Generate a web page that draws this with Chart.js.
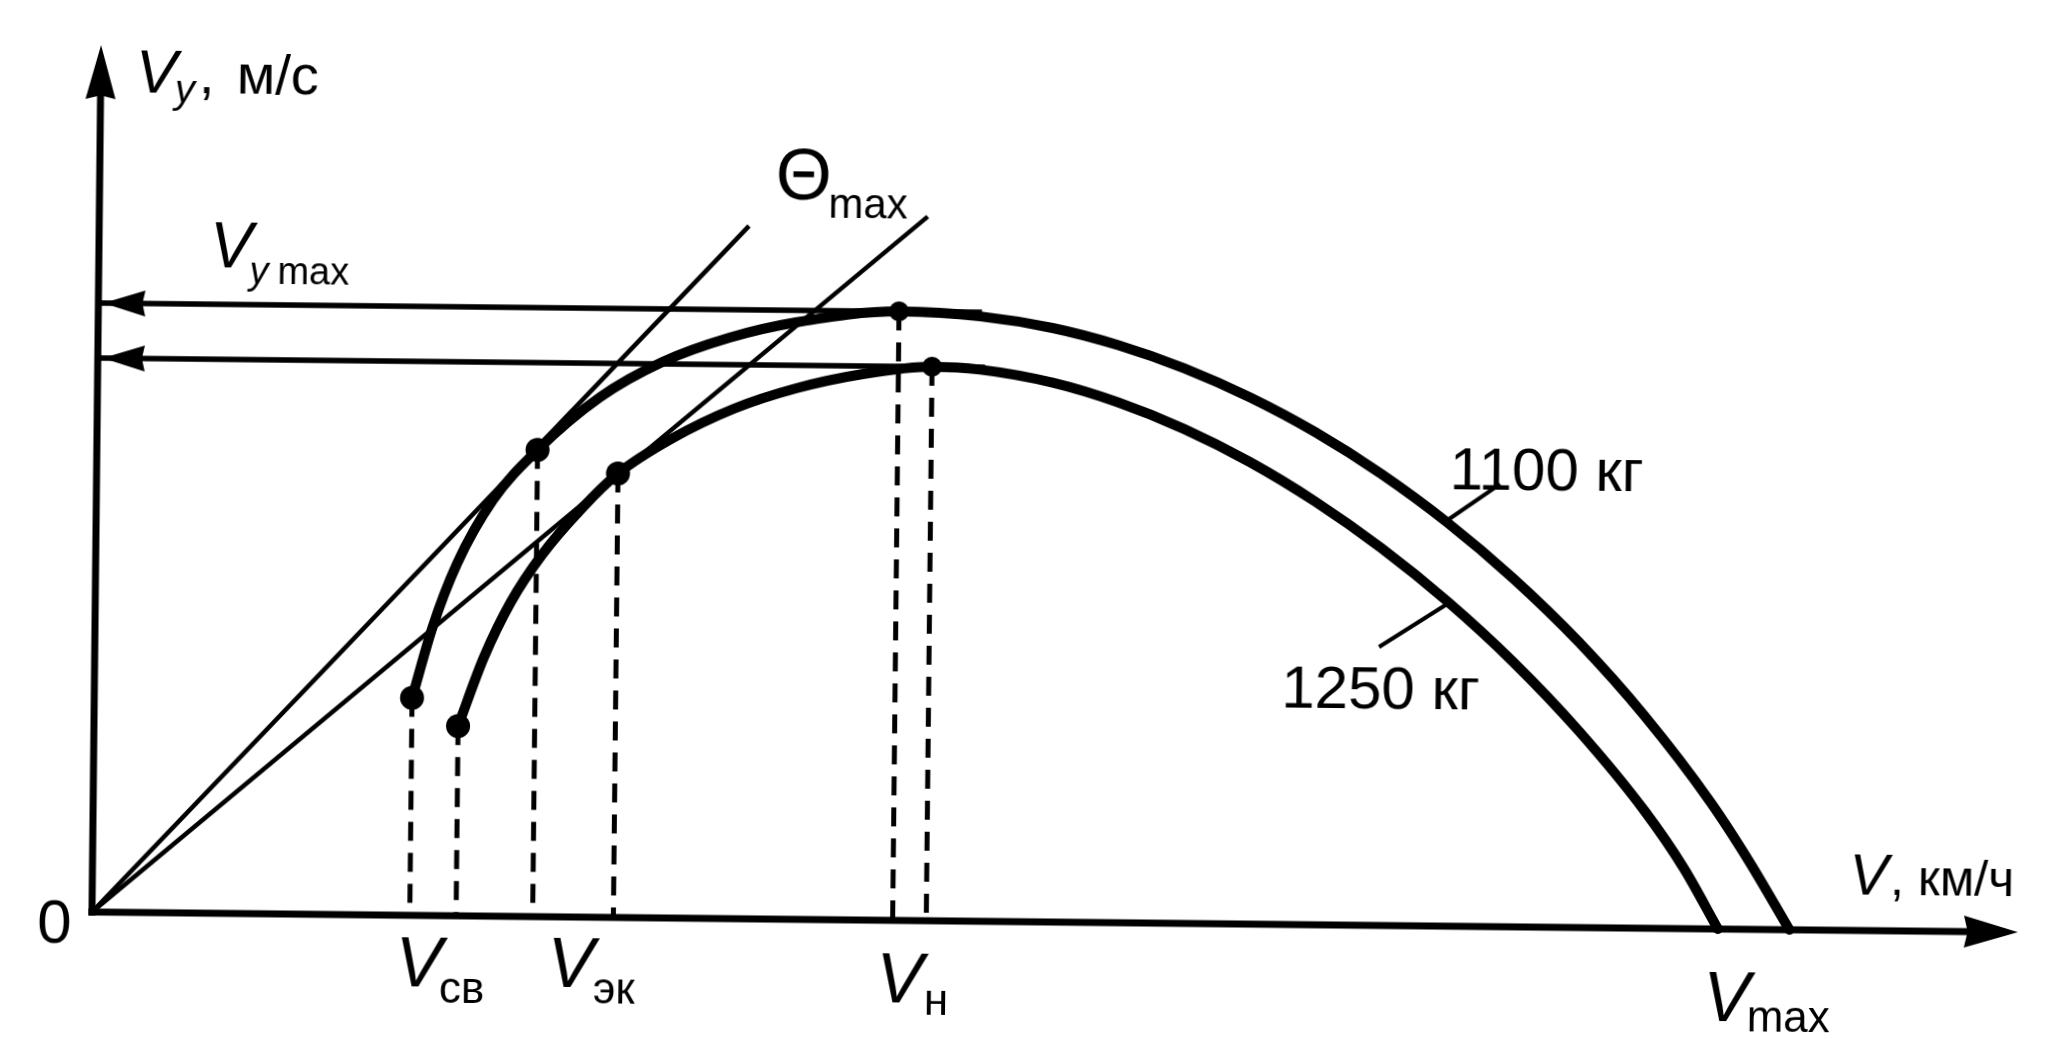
<!DOCTYPE html>
<html><head><meta charset="utf-8">
<script src="https://cdn.jsdelivr.net/npm/chart.js@4.4.1/dist/chart.umd.min.js"></script>
<style>
html,body{margin:0;padding:0;background:#fff;overflow:hidden;}
#wrap{width:2063px;height:1039px;position:relative;background:#fff;}
#c{position:absolute;left:0;top:0;transform:rotate(0.6deg);transform-origin:92px 912px;}
</style></head><body>
<div id="wrap"><canvas id="c" width="2063" height="1039"></canvas></div>
<script>
// ---------- data (V, km/h-like units ; Vy, m/s-like units) ----------
const axisVmax = 192.6;      // end of V axis (arrow tip)
const axisVyMax = 86.7;      // end of Vy axis (arrow tip)

const curve1100V  = [31.78, 33.76, 36.13, 39.67, 44.07, 50.25, 56.47, 63.15, 69.78, 80.07, 88.20, 95.45, 102.04, 108.64, 115.25, 121.87, 128.49, 135.12, 141.76, 148.40, 155.06, 161.72, 165.73, 169.75];
const curve1100Vy = [21.74, 28.86, 35.20, 41.62, 46.67, 52.00, 55.60, 58.10, 59.70, 60.90, 60.49, 59.40, 57.75, 55.51, 52.67, 49.23, 45.13, 40.36, 34.85, 28.54, 21.21, 12.69, 6.67, 0];

const curve1250V  = [36.41, 38.93, 41.54, 44.63, 48.58, 52.14, 57.41, 63.67, 69.85, 76.54, 83.43, 88.25, 95.51, 102.10, 108.71, 115.32, 121.94, 128.57, 135.21, 141.85, 148.49, 155.16, 159.15, 162.60];
const curve1250Vy = [18.98, 25.90, 31.40, 36.20, 40.90, 44.40, 47.90, 51.00, 53.10, 54.60, 55.40, 55.16, 53.93, 52.02, 49.44, 46.20, 42.29, 37.72, 32.47, 26.49, 19.65, 11.71, 6.00, 0];

const tangentSteepV    = [0, 64.98];
const tangentSteepVy   = [0, 69.29];
const tangentShallowV  = [0, 82.84];
const tangentShallowVy = [0, 70.41];

// key points: Vсв(1100), Vсв(1250), Vэк(1100), Vэк(1250), Vн(1100), Vн(1250)
const keyV  = [31.78, 36.41, 44.07, 52.14, 80.07, 83.43];
const keyVy = [21.74, 18.98, 46.67, 44.40, 60.90, 55.40];

const vyMaxLevels   = [60.90, 55.40];
const vyMaxArrowEnd = [88.37, 88.73];

const leader1100V  = [134.70, 140.35];
const leader1100Vy = [40.30, 44.27];
const leader1250V  = [135.47, 128.42];
const leader1250Vy = [32.40, 27.85];

// ---------- styling / annotations ----------
const F = '"Liberation Sans", Arial, Helvetica, sans-serif';
const pts = (xs, ys) => xs.map((x, i) => ({x, y: ys[i]}));
const dotRadius = [12, 12, 12, 12, 10, 10];

const annotations = [
  {v: -5.47, vy: -3.06, parts: [{text: '0', font: `62px ${F}`}]},
  {v: 3.5, vy: 82.0, parts: [
    {text: 'V', font: `italic 62px ${F}`},
    {text: 'y', font: `italic 40px ${F}`, dy: 10, gap: -2},
    {text: ',', font: `56px ${F}`, gap: 4},
    {text: 'м/с', font: `56px ${F}`, gap: 22}]},
  {v: 11.1, vy: 64.6, parts: [
    {text: 'V', font: `italic 64px ${F}`},
    {text: 'y', font: `italic 38px ${F}`, dy: 16, gap: -3},
    {text: 'max', font: `38px ${F}`, dy: 16, gap: 9}]},
  {v: 67.6, vy: 72.0, parts: [
    {text: 'Θ', font: `72px ${F}`},
    {text: 'max', font: `42px ${F}`, dy: 18, gap: -3}]},
  {v: 135.3, vy: 43.72, parts: [{text: '1100 кг', font: `60px ${F}`}]},
  {v: 118.7, vy: 21.75, parts: [{text: '1250 кг', font: `60px ${F}`}]},
  {v: 175.7, vy: 3.6, parts: [
    {text: 'V', font: `italic 58px ${F}`},
    {text: ',', font: `50px ${F}`, gap: 2},
    {text: 'км/ч', font: `50px ${F}`, gap: 14}]},
  {v: 30.4, vy: -7.1, parts: [
    {text: 'V', font: `italic 70px ${F}`},
    {text: 'св', font: `44px ${F}`, dy: 16, gap: -3}]},
  {v: 45.6, vy: -7.0, parts: [
    {text: 'V', font: `italic 70px ${F}`},
    {text: 'эк', font: `44px ${F}`, dy: 16, gap: -1}]},
  {v: 78.5, vy: -8.2, parts: [
    {text: 'V', font: `italic 70px ${F}`},
    {text: 'н', font: `44px ${F}`, dy: 12, gap: 1}]},
  {v: 161.2, vy: -9.2, parts: [
    {text: 'V', font: `italic 70px ${F}`},
    {text: 'max', font: `44px ${F}`, dy: 10, gap: -3}]}
];

function arrowHead(ctx, tx, ty, ux, uy, len, half) {
  const nx = -uy, ny = ux;
  ctx.beginPath();
  ctx.moveTo(tx, ty);
  ctx.lineTo(tx - ux * len + nx * half, ty - uy * len + ny * half);
  ctx.lineTo(tx - ux * len * 0.93, ty - uy * len * 0.93);
  ctx.lineTo(tx - ux * len - nx * half, ty - uy * len - ny * half);
  ctx.closePath();
  ctx.fill();
}

const decor = {
  id: 'decor',
  beforeDatasetsDraw(chart) {
    const {ctx, scales: {x, y}} = chart;
    const x0 = x.getPixelForValue(0), y0 = y.getPixelForValue(0);
    const xr = x.getPixelForValue(axisVmax), yt = y.getPixelForValue(axisVyMax);
    ctx.save();
    ctx.strokeStyle = '#000'; ctx.fillStyle = '#000'; ctx.lineWidth = 7; ctx.lineCap = 'butt';
    ctx.beginPath(); ctx.moveTo(x0, y0 + 3.5); ctx.lineTo(x0, yt + 40); ctx.stroke();
    ctx.beginPath(); ctx.moveTo(x0 - 3.5, y0); ctx.lineTo(xr - 40, y0); ctx.stroke();
    arrowHead(ctx, x0, yt, 0, -1, 54, 15);
    arrowHead(ctx, xr, y0, 1, 0, 54, 16);
    ctx.restore();
  },
  afterDatasetsDraw(chart) {
    const {ctx, scales: {x, y}} = chart;
    ctx.save();
    ctx.fillStyle = '#000';
    vyMaxLevels.forEach(lv => {
      arrowHead(ctx, x.getPixelForValue(0.5), y.getPixelForValue(lv), -1, 0, 42, 13);
    });
    ctx.textBaseline = 'alphabetic';
    ctx.textAlign = 'left';
    annotations.forEach(a => {
      let cx = x.getPixelForValue(a.v);
      const by = y.getPixelForValue(a.vy);
      a.parts.forEach(p => {
        cx += (p.gap || 0);
        ctx.font = p.font;
        ctx.fillText(p.text, cx, by + (p.dy || 0));
        cx += ctx.measureText(p.text).width;
      });
    });
    ctx.restore();
  }
};

const line = (data, width, extra) => Object.assign({
  type: 'line', data, borderColor: '#000', backgroundColor: '#000',
  borderWidth: width, pointRadius: 0, fill: false, clip: false, tension: 0
}, extra || {});

const datasets = [
  line(pts(curve1100V, curve1100Vy), 10, {cubicInterpolationMode: 'monotone', borderCapStyle: 'round', borderJoinStyle: 'round'}),
  line(pts(curve1250V, curve1250Vy), 10, {cubicInterpolationMode: 'monotone', borderCapStyle: 'round', borderJoinStyle: 'round'}),
  line(pts(tangentSteepV, tangentSteepVy), 4.5),
  line(pts(tangentShallowV, tangentShallowVy), 4.5),
  line(pts(leader1100V, leader1100Vy), 4),
  line(pts(leader1250V, leader1250Vy), 4),
  ...vyMaxLevels.map((lv, i) => line([{x: 0, y: lv}, {x: vyMaxArrowEnd[i], y: lv}], 5.5)),
  ...keyV.map((v, i) => line([{x: v, y: keyVy[i]}, {x: v, y: 0}], 5, {borderDash: [19, 12]})),
  {type: 'scatter', data: pts(keyV, keyVy), pointRadius: dotRadius, pointBackgroundColor: '#000',
   pointBorderWidth: 0, showLine: false, clip: false}
];

new Chart(document.getElementById('c'), {
  type: 'scatter',
  data: {datasets},
  options: {
    responsive: false, animation: false, devicePixelRatio: 1,
    layout: {padding: {left: 92, right: 45, top: 45, bottom: 127}},
    plugins: {legend: {display: false}, tooltip: {enabled: false}},
    events: [],
    scales: {
      x: {type: 'linear', min: 0, max: axisVmax, display: false},
      y: {type: 'linear', min: 0, max: axisVyMax, display: false}
    }
  },
  plugins: [decor]
});
</script>
</body></html>
